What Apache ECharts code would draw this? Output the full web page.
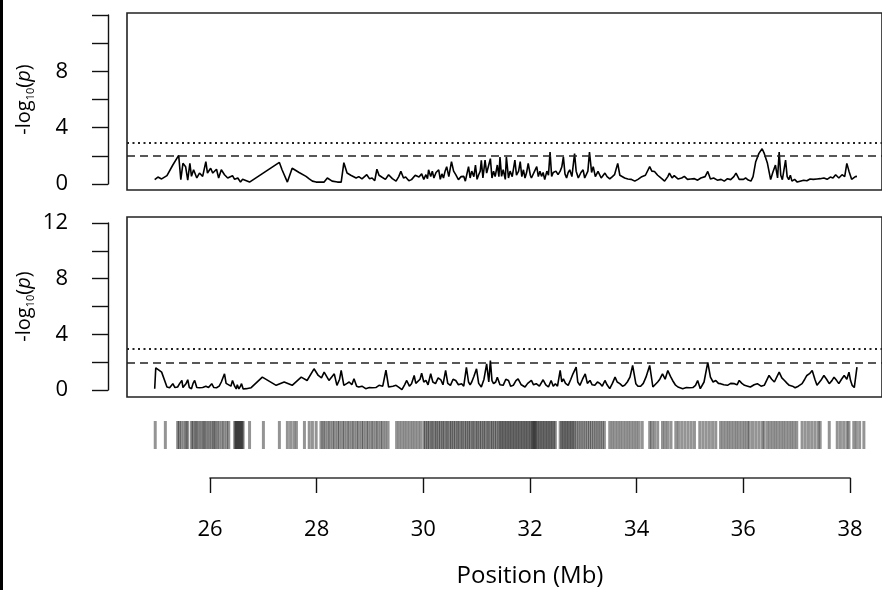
<!DOCTYPE html>
<html>
<head>
<meta charset="utf-8">
<script src="https://cdn.jsdelivr.net/npm/echarts@6/dist/echarts.min.js"></script>
<style>
  html, body { margin: 0; padding: 0; background: #fff; }
  #chart { width: 882px; height: 590px; }
</style>
</head>
<body>
<div id="chart"></div>
<script>
// -log10(p) traces along the region, [position Mb, value]
const topTrace = [
  [24.97,0.28],[25.03,0.47],[25.10,0.33],[25.20,0.57],[25.31,1.35],[25.42,2.06],[25.46,0.28],[25.50,1.47],[25.55,1.23],[25.59,0.24],
  [25.63,1.47],[25.66,0.52],[25.70,1.0],[25.76,0.4],[25.81,0.76],[25.87,0.52],[25.93,1.6],[25.96,0.76],[26.02,1.11],[26.06,0.76],
  [26.13,1.04],[26.17,0.4],[26.22,1.0],[26.28,0.64],[26.34,0.4],[26.43,0.57],[26.47,0.3],[26.50,0.17],[26.53,0.4],[26.56,0.33],
  [26.58,0.1],[26.60,0.05],[26.62,0.3],[26.64,0.21],[26.75,0.1],[27.31,1.54],[27.36,1.0],[27.46,0.1],[27.55,1.11],[27.68,0.8],
  [27.81,0.52],[27.87,0.33],[27.93,0.17],[28.00,0.1],[28.09,0.1],[28.15,0.1],[28.21,0.4],[28.30,0.17],[28.40,0.1],[28.47,0.1],
  [28.52,1.52],[28.58,0.76],[28.65,0.6],[28.75,0.4],[28.80,0.5],[28.86,0.33],[28.95,0.64],[29.00,0.35],[29.05,0.4],[29.10,0.2],
  [29.14,1.04],[29.18,0.6],[29.23,0.47],[29.30,0.3],[29.36,0.64],[29.43,0.35],[29.50,0.17],[29.55,0.5],[29.59,0.88],[29.64,0.4],
  [29.68,0.47],[29.74,0.2],[29.79,0.28],[29.86,0.6],[29.93,0.47],[29.98,0.7],[30.02,0.3],[30.06,0.64],[30.09,0.35],[30.11,1.0],
  [30.15,0.5],[30.18,0.9],[30.21,0.4],[30.25,0.8],[30.30,1.0],[30.33,0.3],[30.36,0.7],[30.39,0.4],[30.42,0.9],[30.45,1.23],
  [30.49,0.5],[30.54,1.6],[30.58,0.9],[30.62,0.64],[30.67,0.28],[30.72,0.5],[30.77,0.52],[30.80,0.17],[30.83,0.7],[30.86,1.23],
  [30.89,0.4],[30.92,0.9],[30.96,0.5],[30.99,1.35],[31.02,0.3],[31.05,0.64],[31.08,0.9],[31.10,1.7],[31.13,0.4],[31.17,1.71],
  [31.20,0.76],[31.23,1.2],[31.27,1.82],[31.30,0.4],[31.33,0.9],[31.36,0.5],[31.40,1.35],[31.43,0.5],[31.45,1.94],[31.48,0.52],
  [31.51,1.0],[31.55,0.3],[31.57,1.94],[31.61,0.4],[31.64,0.9],[31.68,0.5],[31.73,1.71],[31.76,0.6],[31.80,0.9],[31.83,1.6],
  [31.86,0.5],[31.89,1.0],[31.92,0.4],[31.95,0.8],[31.98,1.47],[32.02,0.6],[32.04,0.4],[32.07,0.28],[32.10,0.9],[32.14,1.23],
  [32.17,0.5],[32.20,0.9],[32.23,0.52],[32.26,0.8],[32.29,0.28],[32.33,0.9],[32.36,0.6],[32.39,2.3],[32.42,0.52],[32.45,0.8],
  [32.50,0.9],[32.54,0.64],[32.58,0.9],[32.61,1.2],[32.64,1.94],[32.67,0.7],[32.70,0.4],[32.73,0.8],[32.76,1.0],[32.80,0.5],
  [32.85,2.18],[32.88,0.9],[32.92,0.4],[32.97,0.8],[33.01,1.0],[33.04,0.4],[33.07,0.52],[33.10,0.9],[33.13,2.3],[33.17,0.8],
  [33.20,1.23],[33.24,0.5],[33.29,0.88],[33.35,0.4],[33.42,0.76],[33.46,0.5],[33.51,0.33],[33.56,0.5],[33.60,0.64],[33.66,1.47],
  [33.70,0.6],[33.73,0.52],[33.79,0.4],[33.85,0.33],[33.91,0.3],[33.98,0.17],[34.04,0.3],[34.10,0.47],[34.18,0.6],[34.26,1.23],
  [34.30,0.9],[34.35,0.88],[34.41,0.6],[34.47,0.4],[34.54,0.17],[34.60,0.5],[34.63,0.76],[34.68,0.4],[34.72,0.57],[34.79,0.33],
  [34.86,0.4],[34.91,0.52],[34.97,0.3],[35.03,0.33],[35.10,0.35],[35.16,0.24],[35.22,0.4],[35.30,0.5],[35.35,0.88],[35.40,0.33],
  [35.46,0.4],[35.53,0.24],[35.60,0.3],[35.66,0.17],[35.72,0.35],[35.78,0.28],[35.84,0.5],[35.88,0.76],[35.94,0.3],[35.97,0.17],
  [36.02,0.3],[36.06,0.4],[36.11,0.25],[36.16,0.17],[36.20,0.5],[36.25,1.59],[36.31,2.2],[36.37,2.54],[36.41,2.2],[36.47,1.47],
  [36.53,0.28],[36.57,0.8],[36.62,1.35],[36.66,0.4],[36.69,2.3],[36.72,0.6],[36.75,0.28],[36.78,1.0],[36.81,1.71],[36.84,0.5],
  [36.87,0.28],[36.90,0.6],[36.93,0.17],[36.98,0.3],[37.03,0.1],[37.15,0.24],[37.21,0.2],[37.27,0.33],[37.33,0.3],[37.40,0.33],
  [37.46,0.35],[37.53,0.4],[37.59,0.3],[37.65,0.47],[37.70,0.4],[37.75,0.64],[37.81,0.4],[37.87,0.64],[37.92,0.5],[37.96,1.47],
  [38.00,0.9],[38.02,0.76],[38.05,0.3],[38.08,0.17],[38.12,0.5],[38.15,0.52]
];

const bottomTrace = [
  [24.97,0.12],[24.99,1.62],[25.10,1.31],[25.20,0.24],[25.25,0.19],[25.31,0.48],[25.35,0.2],[25.40,0.24],[25.44,0.5],[25.48,0.71],
  [25.50,0.2],[25.53,0.12],[25.56,0.5],[25.59,0.76],[25.62,0.2],[25.66,0.12],[25.69,0.5],[25.72,0.71],[25.76,0.2],[25.81,0.19],
  [25.87,0.2],[25.93,0.29],[25.98,0.2],[26.04,0.48],[26.08,0.2],[26.13,0.19],[26.18,0.3],[26.22,0.6],[26.28,1.19],[26.31,0.5],
  [26.34,0.48],[26.40,0.3],[26.43,0.71],[26.47,0.3],[26.50,0.1],[26.52,0.4],[26.55,0.1],[26.58,0.3],[26.60,0.48],[26.63,0.1],
  [26.69,0.12],[26.78,0.19],[26.99,0.95],[27.25,0.36],[27.40,0.6],[27.55,0.36],[27.72,0.95],[27.83,0.71],[27.96,1.55],[28.04,1.07],
  [28.10,0.9],[28.15,1.31],[28.24,0.71],[28.30,1.0],[28.34,1.19],[28.39,0.36],[28.44,0.8],[28.47,1.43],[28.52,0.36],[28.58,0.5],
  [28.62,0.6],[28.67,0.4],[28.71,0.83],[28.76,0.3],[28.80,0.24],[28.86,0.3],[28.93,0.12],[29.00,0.2],[29.05,0.19],[29.12,0.2],
  [29.18,0.36],[29.25,0.3],[29.31,1.45],[29.36,0.24],[29.44,0.3],[29.50,0.36],[29.56,0.2],[29.61,0.05],[29.66,0.4],[29.70,0.71],
  [29.75,0.3],[29.79,0.48],[29.84,1.07],[29.87,0.5],[29.90,0.36],[29.95,0.8],[29.98,1.24],[30.02,0.6],[30.06,0.71],[30.10,0.4],
  [30.15,1.19],[30.19,0.6],[30.24,0.48],[30.29,0.9],[30.34,0.76],[30.38,0.4],[30.43,1.43],[30.47,0.5],[30.52,0.36],[30.57,0.8],
  [30.62,0.71],[30.67,0.4],[30.73,0.48],[30.77,0.3],[30.82,1.65],[30.86,0.6],[30.89,0.4],[30.92,0.6],[30.96,1.0],[31.01,1.55],
  [31.05,0.5],[31.10,0.24],[31.15,0.8],[31.20,1.9],[31.24,0.6],[31.27,2.14],[31.30,0.7],[31.33,0.48],[31.37,0.6],[31.40,0.95],
  [31.45,0.4],[31.51,0.36],[31.56,0.8],[31.61,0.71],[31.65,0.3],[31.70,0.36],[31.75,0.7],[31.79,0.83],[31.85,0.4],[31.92,0.24],
  [31.97,0.5],[32.04,0.71],[32.08,0.4],[32.13,0.48],[32.19,0.3],[32.26,0.76],[32.31,0.4],[32.36,0.24],[32.41,0.71],[32.45,0.3],
  [32.49,0.48],[32.53,0.3],[32.58,1.43],[32.61,0.6],[32.64,0.83],[32.68,0.5],[32.73,0.36],[32.78,0.8],[32.82,1.19],[32.88,1.67],
  [32.91,0.6],[32.95,0.36],[33.00,0.8],[33.05,1.19],[33.09,0.5],[33.14,0.71],[33.18,0.4],[33.23,0.36],[33.28,0.6],[33.33,0.48],
  [33.37,0.3],[33.42,0.71],[33.46,0.4],[33.51,0.12],[33.56,0.5],[33.61,0.95],[33.65,0.6],[33.70,0.48],[33.75,0.3],[33.79,0.36],
  [33.84,0.6],[33.89,0.95],[33.94,1.79],[34.00,0.48],[34.04,0.3],[34.09,0.29],[34.14,0.5],[34.19,0.95],[34.26,1.79],[34.32,0.24],
  [34.36,0.4],[34.41,0.6],[34.45,0.8],[34.50,1.19],[34.55,0.8],[34.60,1.43],[34.65,1.0],[34.69,0.71],[34.74,0.4],[34.79,0.24],
  [34.88,0.12],[34.95,0.2],[35.01,0.19],[35.07,0.2],[35.12,0.36],[35.16,0.71],[35.21,0.12],[35.28,0.6],[35.35,2.02],[35.40,0.95],
  [35.45,0.6],[35.50,0.71],[35.55,0.5],[35.59,0.48],[35.65,0.4],[35.72,0.36],[35.78,0.5],[35.85,0.48],[35.90,0.4],[35.94,0.71],
  [35.99,0.5],[36.04,0.36],[36.10,0.3],[36.15,0.24],[36.22,0.4],[36.28,0.48],[36.35,0.3],[36.41,0.36],[36.50,1.07],[36.55,0.8],
  [36.60,0.6],[36.69,1.31],[36.74,0.9],[36.79,0.71],[36.84,0.5],[36.88,0.36],[36.94,0.3],[36.99,0.19],[37.05,0.3],[37.12,0.48],
  [37.17,0.8],[37.21,1.07],[37.26,1.2],[37.31,1.43],[37.36,0.8],[37.40,0.36],[37.47,0.7],[37.53,1.07],[37.58,0.8],[37.63,0.48],
  [37.68,0.7],[37.72,0.95],[37.77,0.7],[37.81,0.48],[37.86,0.8],[37.91,1.07],[37.96,0.8],[38.00,1.31],[38.03,0.7],[38.06,0.36],
  [38.10,0.2],[38.15,1.67]
];

// marker positions (Mb) for the rug strip
const snpPos = [
  24.98, 25.17,
  25.40, 25.43, 25.47, 25.52, 25.56, 25.59,
  25.66, 25.69, 25.73, 25.76, 25.80, 25.84, 25.88, 25.91, 25.95, 25.99, 26.03, 26.07, 26.10, 26.14, 26.18,
  26.23, 26.27, 26.32, 26.36,
  26.47, 26.49, 26.51, 26.53, 26.55, 26.57, 26.59, 26.61, 26.63,
  26.75, 27.01, 27.31, 27.46, 27.52, 27.58, 27.63, 27.78, 27.87, 27.93, 28.00,
  28.09, 28.13, 28.17, 28.22, 28.26, 28.31, 28.35, 28.40, 28.44, 28.49, 28.53, 28.58, 28.62, 28.67, 28.71,
  28.76, 28.80, 28.85, 28.89, 28.94, 28.98, 29.03, 29.07, 29.12, 29.16, 29.21, 29.25, 29.30, 29.35,
  29.51, 29.56, 29.61, 29.66, 29.71, 29.76, 29.81, 29.86, 29.91, 29.96,
  30.02, 30.05, 30.09, 30.12, 30.16, 30.19, 30.23, 30.26, 30.30, 30.33, 30.37, 30.40, 30.44, 30.47, 30.51,
  30.54, 30.58, 30.61, 30.65, 30.68, 30.72, 30.75, 30.79, 30.82, 30.86, 30.89, 30.93, 30.96, 31.00, 31.03,
  31.07, 31.10, 31.14, 31.17, 31.21, 31.24, 31.28, 31.31, 31.35, 31.38, 31.42,
  31.45, 31.48, 31.51, 31.54, 31.57, 31.60, 31.63, 31.66, 31.69, 31.72, 31.75, 31.78, 31.81, 31.84, 31.87,
  31.90, 31.93, 31.96, 31.99, 32.02, 32.05, 32.07, 32.09, 32.11, 32.13, 32.16, 32.19, 32.22, 32.25, 32.28,
  32.31, 32.34, 32.37, 32.40, 32.43, 32.46, 32.49,
  32.58, 32.61, 32.64, 32.67, 32.70, 32.73, 32.76, 32.79, 32.82, 32.85, 32.89, 32.93, 32.97, 33.01, 33.05,
  33.09, 33.13, 33.17, 33.21, 33.25, 33.29, 33.33, 33.37, 33.41,
  33.51, 33.56, 33.61, 33.66, 33.71, 33.76, 33.81, 33.86, 33.91, 33.96, 34.01, 34.06, 34.12,
  34.26, 34.30, 34.35, 34.41, 34.50, 34.55, 34.60, 34.66,
  34.75, 34.80, 34.86, 34.92, 34.98, 35.04, 35.10,
  35.20, 35.26, 35.32, 35.38, 35.44, 35.50,
  35.59, 35.64, 35.69, 35.74, 35.79, 35.84, 35.89, 35.94, 35.99, 36.04, 36.09, 36.13,
  36.19, 36.25, 36.31, 36.37, 36.41,
  36.47, 36.52, 36.57, 36.62, 36.67, 36.72, 36.77, 36.82, 36.87, 36.92, 36.97, 37.02,
  37.12, 37.18, 37.24, 37.30, 37.36, 37.42, 37.46,
  37.63, 37.78, 37.84, 37.90, 37.96, 38.00,
  38.09, 38.14, 38.20, 38.28
];

const thresholds = [2, 3]; // dashed, dotted
const posTicks = [26, 38, 2]; // min, max, step of the position axis
const pTicks = [0, 12, 2];

const FONT = 'Open Sans';
const myCharts = echarts.init(document.getElementById('chart'));

const xPanel = { min: 24.45, max: 38.62 };
const yPanel = { min: -0.48, max: 12.48 };

function hiddenX(gridIndex) {
  return { type: 'value', gridIndex, min: xPanel.min, max: xPanel.max, show: false, splitLine: { show: false } };
}
function hiddenY(gridIndex, min, max) {
  return { type: 'value', gridIndex, min, max, show: false, splitLine: { show: false } };
}
function pAxis(gridIndex, show12) {
  return {
    type: 'value', gridIndex, min: pTicks[0], max: pTicks[1], interval: pTicks[2],
    name: '-log{sub|10}({it|p})',
    nameLocation: 'middle', nameRotate: 90, nameGap: 72,
    nameTextStyle: {
      fontFamily: FONT, fontSize: 20, color: '#000',
      rich: {
        sub: { fontFamily: FONT, fontSize: 11, color: '#000', verticalAlign: 'bottom', lineHeight: 24 },
        it: { fontFamily: FONT, fontSize: 20, fontStyle: 'italic', color: '#000' }
      }
    },
    axisLine: { show: true, lineStyle: { color: '#111', width: 1.4 } },
    axisTick: { show: true, length: 16, lineStyle: { color: '#111', width: 1.4 } },
    axisLabel: {
      margin: 40, fontFamily: FONT, fontSize: 22, color: '#000',
      formatter: v => (v % 4 === 0 && (show12 || v !== 12)) ? String(v) : ''
    },
    splitLine: { show: false }
  };
}

function threshLines() {
  return {
    silent: true, symbol: ['none', 'none'], animation: false,
    label: { show: false },
    data: [
      { yAxis: thresholds[0], lineStyle: { type: [8, 5], color: '#222', width: 1.6 } },
      { yAxis: thresholds[1], lineStyle: { type: [2, 3.5], color: '#222', width: 1.8 } }
    ]
  };
}

let options = {
  animation: false,
  graphic: [
    { type: 'rect', left: 0, top: 0, shape: { width: 3, height: 590 }, style: { fill: '#000' } }
  ],
  grid: [
    { left: 127, right: -3, top: 13, height: 177, show: true, borderColor: '#222', borderWidth: 1.6, backgroundColor: 'transparent' },
    { left: 108, width: 10, top: 15, height: 169 },
    { left: 127, right: -3, top: 217, height: 180, show: true, borderColor: '#222', borderWidth: 1.6, backgroundColor: 'transparent' },
    { left: 108, width: 10, top: 223, height: 167 },
    { left: 127, right: -3, top: 421, height: 28 },
    { left: 210, width: 640, top: 477, height: 1 }
  ],
  xAxis: [
    hiddenX(0),
    { type: 'value', gridIndex: 1, show: false },
    hiddenX(2),
    { type: 'value', gridIndex: 3, show: false },
    hiddenX(4),
    {
      type: 'value', gridIndex: 5, min: posTicks[0], max: posTicks[1], interval: posTicks[2],
      name: 'Position (Mb)', nameLocation: 'middle', nameGap: 86,
      nameTextStyle: { fontFamily: FONT, fontSize: 24, color: '#000' },
      axisLine: { show: true, onZero: false, lineStyle: { color: '#333', width: 1.6 } },
      axisTick: { show: true, length: 15, lineStyle: { color: '#111', width: 1.4 } },
      axisLabel: { margin: 41, fontFamily: FONT, fontSize: 22, color: '#000' },
      splitLine: { show: false }
    }
  ],
  yAxis: [
    hiddenY(0, yPanel.min, yPanel.max),
    pAxis(1, false),
    hiddenY(2, yPanel.min, yPanel.max),
    pAxis(3, true),
    hiddenY(4, 0, 1),
    { type: 'value', gridIndex: 5, show: false }
  ],
  series: [
    {
      type: 'line', xAxisIndex: 0, yAxisIndex: 0, data: topTrace,
      showSymbol: false, lineStyle: { color: '#000', width: 1.6 },
      markLine: threshLines()
    },
    {
      type: 'line', xAxisIndex: 2, yAxisIndex: 2, data: bottomTrace,
      showSymbol: false, lineStyle: { color: '#000', width: 1.6 },
      markLine: threshLines()
    },
    {
      // rug of marker positions
      type: 'custom', xAxisIndex: 4, yAxisIndex: 4,
      data: snpPos.map(p => [p, 0]),
      renderItem: function(params, api) {
        const a = api.coord([api.value(0), 0]);
        const b = api.coord([api.value(0), 1]);
        return {
          type: 'line',
          shape: { x1: a[0], y1: a[1], x2: b[0], y2: b[1] },
          style: { stroke: 'rgba(0,0,0,0.42)', lineWidth: 3 }
        };
      }
    }
  ]
};

myCharts.setOption(options);
</script>
</body>
</html>
